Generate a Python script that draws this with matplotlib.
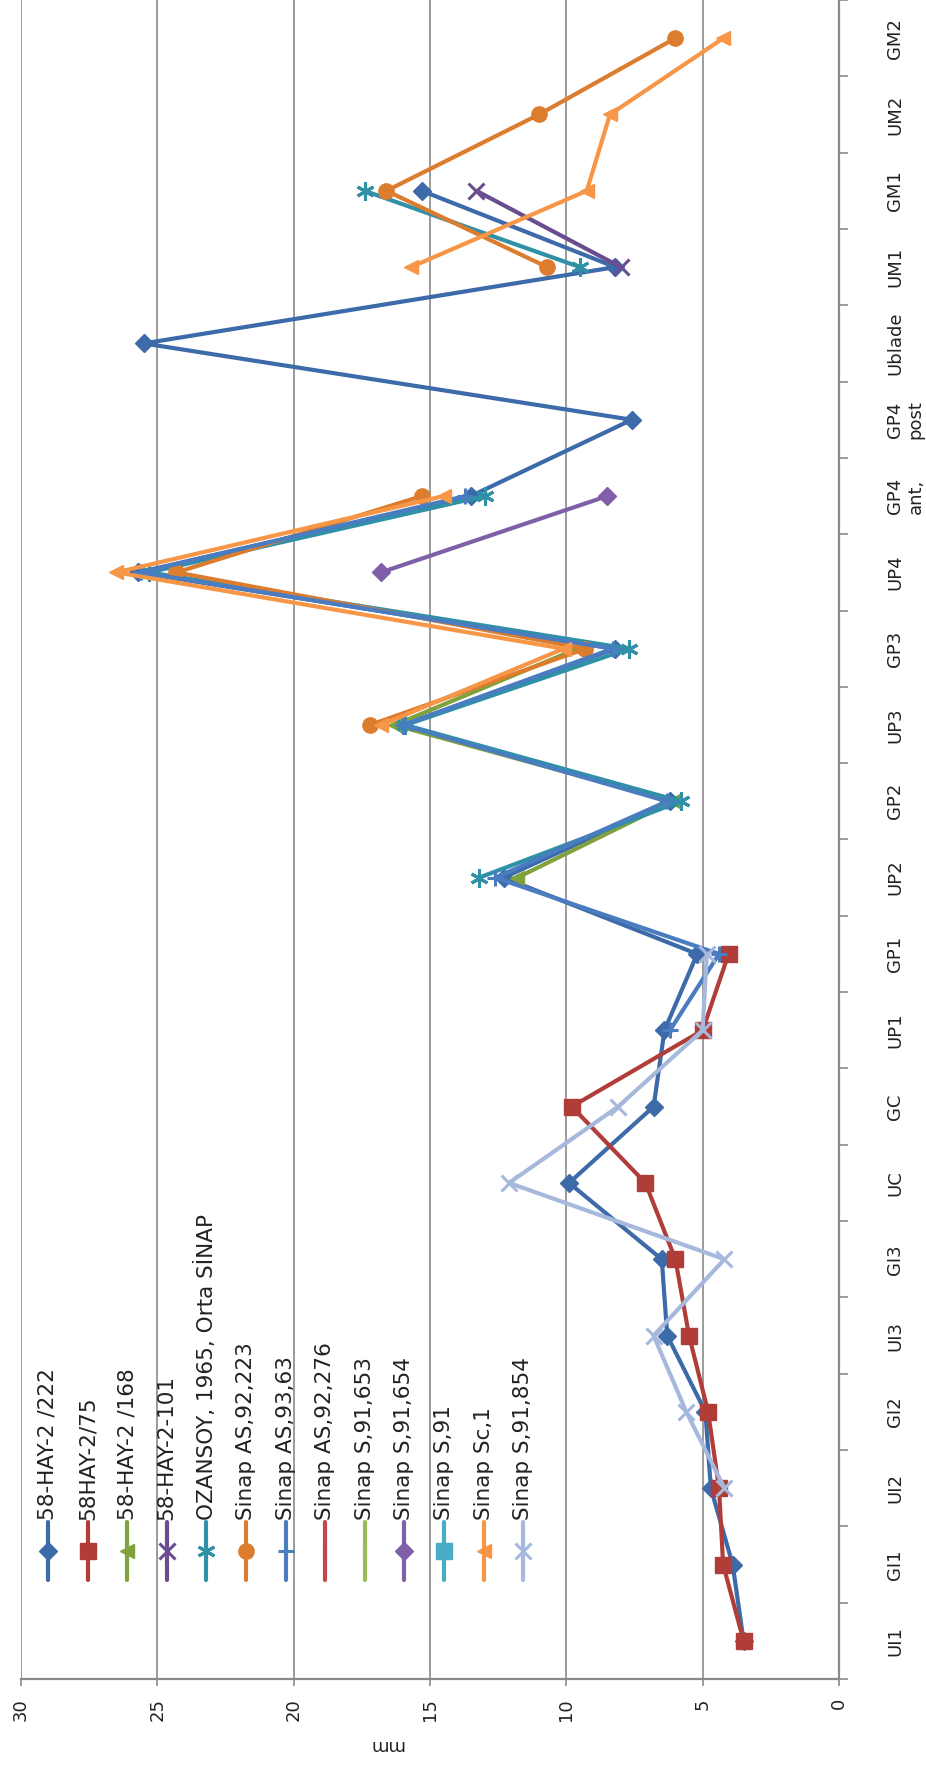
import numpy as np
import matplotlib
matplotlib.use("Agg")
import matplotlib.pyplot as plt
from matplotlib.lines import Line2D

nan = np.nan

# ---- data -------------------------------------------------------------
categories = ["UI1", "GI1", "UI2", "GI2", "UI3", "GI3", "UC", "GC", "UP1", "GP1",
              "UP2", "GP2", "UP3", "GP3", "UP4", "GP4\nant,", "GP4\npost",
              "Ublade", "UM1", "GM1", "UM2", "GM2"]
value_ticks = [0, 5, 10, 15, 20, 25, 30]

hay2_222 = [3.5, 3.9, 4.7, 4.9, 6.3, 6.5, 9.9, 6.8, 6.4, 5.2, 12.3, 6.2, 16.0, 8.2,
            25.7, 13.5, 7.6, 25.5, 8.2, 15.3, nan, nan]
hay2_75 = [3.5, 4.25, 4.4, 4.8, 5.5, 6.0, 7.1, 9.8, 5.0, 4.05, nan, nan, nan, nan,
           nan, nan, nan, nan, nan, nan, nan, nan]
hay2_168 = [nan, nan, nan, nan, nan, nan, nan, nan, nan, nan, 11.8, 6.1, 16.3, 9.6,
            nan, nan, nan, nan, nan, nan, nan, nan]
hay2_101 = [nan, nan, nan, nan, nan, nan, nan, nan, nan, nan, nan, nan, nan, nan,
            nan, nan, nan, nan, 8.0, 13.3, nan, nan]
ozansoy = [nan, nan, nan, nan, nan, nan, nan, nan, nan, nan, 13.2, 5.8, 15.9, 7.7,
           25.3, 13.0, nan, nan, 9.5, 17.4, nan, nan]
as_92_223 = [nan, nan, nan, nan, nan, nan, nan, nan, nan, nan, nan, nan, 17.2, 9.3,
             24.3, 15.3, nan, nan, 10.7, 16.6, 11.0, 6.0]
as_93_63 = [nan, nan, nan, nan, nan, nan, nan, nan, 6.2, 4.4, 12.6, 6.3, 16.0, 8.3,
            25.6, 13.7, nan, nan, nan, nan, nan, nan]
as_92_276 = [nan] * 22
s_91_653 = [nan] * 22
s_91_654 = [nan, nan, nan, nan, nan, nan, nan, nan, nan, nan, nan, nan, nan, nan,
            16.8, 8.5, nan, nan, nan, nan, nan, nan]
s_91 = [nan] * 22
sc_1 = [nan, nan, nan, nan, nan, nan, nan, nan, nan, nan, nan, nan, 16.8, 10.1,
        26.5, 14.5, nan, nan, 15.7, 9.25, 8.4, 4.24]
s_91_854 = [nan, nan, 4.2, 5.6, 6.8, 4.2, 12.1, 8.1, 5.0, 4.85, nan, nan, nan, nan,
            nan, nan, nan, nan, nan, nan, nan, nan]

series_names = ["58-HAY-2 /222", "58HAY-2/75", "58-HAY-2 /168", "58-HAY-2-101",
                "OZANSOY, 1965, Orta SİNAP", "Sinap AS,92,223", "Sinap AS,93,63",
                "Sinap AS,92,276", "Sinap S,91,653", "Sinap S,91,654", "Sinap S,91",
                "Sinap Sc,1", "Sinap S,91,854"]
series_values = [hay2_222, hay2_75, hay2_168, hay2_101, ozansoy, as_92_223, as_93_63,
                 as_92_276, s_91_653, s_91_654, s_91, sc_1, s_91_854]

# ---- styles (color, marker, marker size) --------------------------------
styles = [
    ("#3d6aa8", "D", 9),
    ("#b13d39", "s", 12),
    ("#7fa23d", "<", 10),
    ("#6a4d90", "x", 11),
    ("#2f90a7", (6, 2, 0), 13),
    ("#dc7c2e", "o", 11),
    ("#4a7cc0", "+", 11),
    ("#c0474a", "|", 10),
    ("#9bbb59", "|", 10),
    ("#7f60a8", "D", 9),
    ("#4bacc6", "s", 12),
    ("#f79646", "<", 10),
    ("#a6b8dc", "x", 11),
]

W, H, DPI = 926, 1780, 100
PX = 72.0 / DPI  # points per pixel

plt.rcParams["font.family"] = ["DejaVu Sans"]
fig = plt.figure(figsize=(W / DPI, H / DPI), dpi=DPI, facecolor="white")

x0, x1 = 21, 839          # value 30 .. value 0 (pixels from left)
y_top, y_bot = 0, 1679    # plot area (pixels from top)
ax = fig.add_axes([x0 / W, 1 - y_bot / H, (x1 - x0) / W, (y_bot - y_top) / H])
ax.set_facecolor("white")

ypos = np.arange(len(categories))
for vals, (col, mk, ms) in zip(series_values, styles):
    lw_mk = 2.2 if mk in ("x", "+", "|") or isinstance(mk, tuple) else 1.0
    ax.plot(vals, ypos, color=col, lw=3.0, marker=mk, markersize=ms,
            markerfacecolor=col, markeredgecolor=col, markeredgewidth=lw_mk,
            solid_joinstyle="round", solid_capstyle="round", zorder=3)

ax.set_xlim(30, 0)
ax.set_ylim(-0.5, len(categories) - 0.5)

grid_col = "#8a8a8a"
ax.set_xticks(value_ticks)
ax.set_xticklabels([str(v) for v in value_ticks])
ax.grid(axis="x", color=grid_col, lw=1.2, zorder=1)
ax.grid(axis="y", visible=False)

for side in ("top", "left"):
    ax.spines[side].set_visible(False)
for side in ("bottom", "right"):
    ax.spines[side].set_color(grid_col)
    ax.spines[side].set_linewidth(1.6)

ax.tick_params(axis="x", which="major", direction="out", length=7 * PX,
               width=1.2, color=grid_col, pad=12 * PX, labelsize=13,
               labelrotation=90, labelcolor="#222222")

ax.yaxis.tick_right()
ax.set_yticks(ypos)
ax.set_yticklabels(categories)
ax.set_yticks(np.arange(-0.5, len(categories), 1.0), minor=True)
ax.tick_params(axis="y", which="major", length=0, pad=47 * PX, labelsize=13,
               labelrotation=90, labelcolor="#222222")
ax.tick_params(axis="y", which="minor", direction="out", length=9 * PX,
               width=1.2, color=grid_col)
for lbl in ax.get_yticklabels():
    lbl.set_verticalalignment("center")
    lbl.set_horizontalalignment("left")
    lbl.set_multialignment("center")
for lbl in ax.get_xticklabels():
    lbl.set_horizontalalignment("center")
    lbl.set_verticalalignment("top")

# axis title, rotated with the chart
fig.text(386 / W, 1 - 1745 / H, "mm", rotation=180, ha="center", va="center",
         fontsize=13, color="#222222")


# ---- legend, drawn as vertical entries ----------------------------------
def fx(px):
    return px / W


def fy(py):
    return 1 - py / H


leg_x0, leg_dx = 48, 39.6
seg_top, seg_bot, mk_y, txt_y = 1522, 1580, 1551, 1520
for k, (name, (col, mk, ms)) in enumerate(zip(series_names, styles)):
    xx = leg_x0 + leg_dx * k
    fig.add_artist(Line2D([fx(xx), fx(xx)], [fy(seg_top), fy(seg_bot)],
                          color=col, lw=3.0, solid_capstyle="round",
                          transform=fig.transFigure))
    lw_mk = 2.2 if mk in ("x", "+", "|") or isinstance(mk, tuple) else 1.0
    fig.add_artist(Line2D([fx(xx)], [fy(mk_y)], marker=mk, markersize=ms,
                          color=col, markerfacecolor=col, markeredgecolor=col,
                          markeredgewidth=lw_mk, linestyle="none",
                          transform=fig.transFigure))
    fig.text(fx(xx), fy(txt_y), name, rotation=90, ha="center", va="bottom",
             fontsize=15.5, color="#222222")

fig.savefig("out.png", dpi=DPI, facecolor="white")
